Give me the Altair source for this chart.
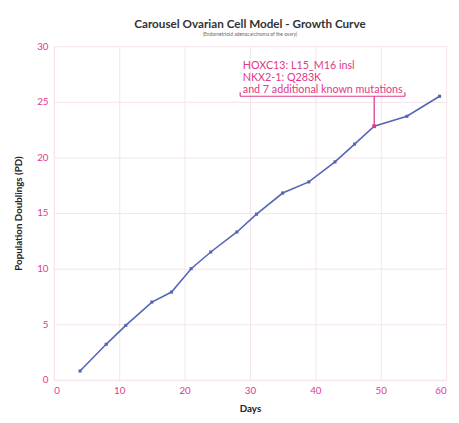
import altair as alt
import pandas as pd

days = [4, 8, 11, 15, 18, 21, 24, 28, 31, 35, 39, 43, 46, 49, 54, 59]
pd_values = [0.8, 3.2, 4.9, 7.0, 7.9, 10.0, 11.5, 13.3, 14.9, 16.8, 17.8, 19.6, 21.2, 22.8, 23.7, 25.5]
highlight_day = 49
annotation_lines = ["HOXC13: L15_M16 insl", "NKX2-1: Q283K", "and 7 additional known mutations"]
bracket_start, bracket_end, bracket_level = 28.5, 53.7, 25.5

PINK = "#e0388a"
BLUE = "#5565b5"
GRID = "#f6e3ea"

df = pd.DataFrame({"day": days, "pd": pd_values})
hl = df[df["day"] == highlight_day].copy()
hl["top"] = bracket_level

xs = alt.Scale(domain=[0, 60], nice=False)
ys = alt.Scale(domain=[0, 30], nice=False)

base = alt.Chart(df)
line = base.mark_line(color=BLUE, strokeWidth=1.6).encode(
    x=alt.X("day:Q", scale=xs, title="Days",
            axis=alt.Axis(values=[0, 10, 20, 30, 40, 50, 60])),
    y=alt.Y("pd:Q", scale=ys, title="Population Doublings (PD)",
            axis=alt.Axis(values=[0, 5, 10, 15, 20, 25, 30])),
)
pts = base.mark_square(color=BLUE, size=10, opacity=1).encode(x="day:Q", y="pd:Q")

vrule = alt.Chart(hl).mark_rule(color=PINK, strokeWidth=1.3).encode(
    x="day:Q", y="pd:Q", y2="top:Q")
hpt = alt.Chart(hl).mark_square(color=PINK, size=14, opacity=1).encode(x="day:Q", y="pd:Q")

br = pd.DataFrame({"x1": [bracket_start], "x2": [bracket_end], "y": [bracket_level]})
hbar = alt.Chart(br).mark_rule(color=PINK, strokeWidth=1.2).encode(
    x="x1:Q", x2="x2:Q", y="y:Q")
ends = pd.DataFrame({"x": [bracket_start, bracket_end], "y": [bracket_level, bracket_level],
                     "y2": [bracket_level + 0.35, bracket_level + 0.35]})
eticks = alt.Chart(ends).mark_rule(color=PINK, strokeWidth=1.2).encode(
    x="x:Q", y="y:Q", y2="y2:Q")

ann = pd.DataFrame({"x": [bracket_start + 0.4] * 3,
                    "y": [bracket_level + 2.3, bracket_level + 1.2, bracket_level + 0.1],
                    "t": annotation_lines})
txt = alt.Chart(ann).mark_text(color=PINK, align="left", baseline="bottom",
                               fontSize=11, font="Lato").encode(
    x="x:Q", y="y:Q", text="t:N")

chart = alt.layer(line, pts, vrule, hpt, hbar, eticks, txt).properties(
    width=402, height=342,
    background="white",
    title=alt.TitleParams(
        text="Carousel Ovarian Cell Model - Growth Curve",
        subtitle="(Endometrioid adenocarcinoma of the ovary)",
        fontSize=12, font="Lato", fontWeight="bold", color="#333333",
        subtitleFontSize=5, subtitleColor="#666666", subtitleFont="Lato",
        anchor="middle", offset=3, subtitlePadding=2,
    ),
).configure_axis(
    labelColor=PINK, labelFontSize=10, labelFont="Lato",
    titleFont="Lato", titleFontSize=10, titleFontWeight="bold", titleColor="#222222",
    gridColor=GRID, domainColor=GRID, ticks=False, labelPadding=6,
).configure_axisY(titlePadding=14).configure_axisX(titlePadding=8).configure_view(
    stroke=None
)

chart.save("out.html", embed_options={"renderer": "svg", "actions": False})
